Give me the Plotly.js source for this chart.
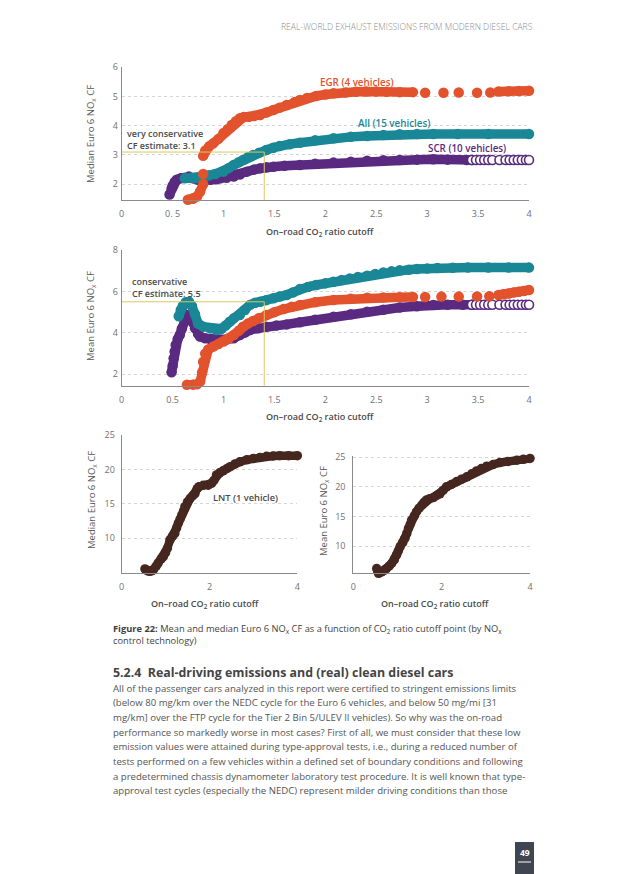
<!DOCTYPE html>
<html>
<head>
<meta charset="utf-8">
<script src="https://cdn.plot.ly/plotly-3.0.1.min.js"></script>
<style>html,body{margin:0;padding:0;background:#fff;}#chart{width:640px;height:874px;}</style>
</head>
<body>
<div id="chart"></div>
<script>
// ---------- data ----------
const xTickVals = [0,0.5,1,1.5,2,2.5,3,3.5,4];
const xTickText1 = ["0","0. 5","1","1.5","2","2.5","3","3.5","4"];
const xTickText2 = ["0","0.5","1","1.5","2","2.5","3","3.5","4"];
const xTickValsLnt = [0,2,4];
const yTicksMedian = [2,3,4,5,6];
const yTicksMean = [2,4,6,8];
const yTicksLnt = [10,15,20,25];

// Median CF, panel 1
const egrMedX = [0.65,0.7,0.74,0.77,0.8,null,0.8,null,0.8,0.82,0.86,0.9,0.95,1.0,1.04,1.08,1.12,1.16,1.2,1.25,1.3,1.36,1.42,1.49,1.55,1.62,1.7,1.75,1.82,1.91,2.0,2.08,2.2,2.3,2.4,2.5,2.6,2.73,2.86,null,2.98,null,3.16,null,3.31,null,3.49,null,3.62,null,3.7,3.8,3.9,4.0];
const egrMedY = [1.47,1.5,1.58,1.75,2.0,null,2.35,null,2.97,3.15,3.3,3.4,3.55,3.75,3.88,4.03,4.15,4.26,4.3,4.31,4.33,4.37,4.45,4.54,4.62,4.71,4.81,4.88,4.95,5.02,5.07,5.11,5.14,5.16,5.17,5.17,5.16,5.15,5.15,null,5.13,null,5.13,null,5.14,null,5.13,null,5.14,null,5.17,5.18,5.19,5.2];
const allMedX = [0.62,0.68,0.72,0.78,0.85,0.92,1.0,1.05,1.1,1.15,1.19,1.24,1.29,1.35,1.42,1.49,1.55,1.65,1.75,1.9,2.08,2.25,2.41,2.57,2.73,2.9,3.06,3.3,3.6,4.0];
const allMedY = [2.2,2.22,2.2,2.25,2.3,2.35,2.43,2.55,2.66,2.75,2.83,2.92,3.0,3.08,3.17,3.25,3.31,3.37,3.42,3.5,3.57,3.62,3.65,3.68,3.71,3.72,3.72,3.72,3.72,3.72];
const scrMedX = [0.47,0.49,0.5,0.52,0.54,0.58,0.62,0.66,0.7,0.75,0.8,0.87,0.93,0.97,1.03,1.1,1.16,1.23,1.3,1.36,1.42,1.49,1.6,1.75,1.9,2.08,2.25,2.41,2.57,2.73,2.9,3.06,3.2,3.39,3.44];
const scrMedY = [1.65,1.85,1.95,2.08,2.15,2.2,2.22,2.26,2.2,2.15,2.13,2.15,2.17,2.2,2.22,2.26,2.33,2.43,2.5,2.55,2.58,2.6,2.63,2.66,2.7,2.74,2.77,2.8,2.82,2.83,2.84,2.85,2.84,2.83,2.83];
const scrOpenX = [3.44,3.48,3.52,3.56,3.6,3.64,3.71,3.77,3.81,3.85,3.89,3.93,3.97,4.0];
const scrOpenMedY = [2.83,2.83,2.83,2.83,2.83,2.83,2.83,2.83,2.83,2.83,2.83,2.83,2.83,2.83];

// Mean CF, panel 2
const egrMeanX = [0.64,0.7,0.74,0.77,0.79,0.8,0.82,0.85,0.9,0.95,1.0,1.05,1.1,1.15,1.19,1.24,1.29,1.35,1.42,1.5,1.59,1.67,1.75,1.9,2.08,2.25,2.41,2.57,2.73,2.86,null,2.98,null,3.14,null,3.31,null,3.49,null,3.61,null,3.7,3.75,3.8,3.85,3.9,3.95,4.0];
const egrMeanY = [1.49,1.5,1.52,1.65,2.1,2.6,3.0,3.2,3.34,3.46,3.58,3.72,3.9,4.1,4.3,4.45,4.57,4.72,4.86,5.0,5.15,5.26,5.35,5.48,5.59,5.65,5.7,5.71,5.72,5.73,null,5.73,null,5.75,null,5.75,null,5.76,null,5.77,null,5.83,5.86,5.9,5.95,5.98,6.02,6.07];
const allMeanX = [0.56,0.58,0.6,0.63,0.66,0.69,0.72,0.75,0.8,0.87,0.93,0.98,1.02,1.06,1.1,1.16,1.21,1.26,1.31,1.36,1.42,1.49,1.55,1.62,1.68,1.75,1.83,1.91,2.0,2.08,2.16,2.24,2.32,2.41,2.49,2.57,2.65,2.73,2.82,2.9,3.0,3.1,3.25,3.4,3.6,3.8,4.0];
const allMeanY = [4.8,5.1,5.3,5.48,5.5,5.3,4.9,4.45,4.3,4.22,4.14,4.2,4.35,4.54,4.7,4.86,5.1,5.35,5.45,5.5,5.58,5.67,5.75,5.83,5.95,6.12,6.22,6.31,6.39,6.47,6.55,6.63,6.7,6.76,6.84,6.91,6.97,7.02,7.05,7.08,7.11,7.13,7.14,7.15,7.15,7.15,7.15];
const scrMeanX = [0.49,0.5,0.51,0.52,0.53,0.55,0.57,0.59,0.62,0.64,0.67,0.7,0.72,0.75,0.77,0.82,0.87,0.92,0.97,1.03,1.1,1.16,1.21,1.26,1.34,1.42,1.52,1.62,1.75,1.9,2.08,2.25,2.41,2.57,2.73,2.9,3.06,3.2,3.35,3.44];
const scrMeanY = [2.1,2.4,2.77,3.1,3.42,3.7,3.9,4.2,4.6,4.86,4.78,4.5,4.22,3.95,3.82,3.74,3.7,3.68,3.66,3.68,3.74,3.9,4.02,4.14,4.22,4.3,4.36,4.41,4.51,4.63,4.78,4.9,5.02,5.12,5.22,5.28,5.35,5.36,5.36,5.36];
const scrOpenMeanY = [5.36,5.36,5.36,5.36,5.36,5.36,5.36,5.36,5.36,5.36,5.36,5.36,5.36,5.36];

// LNT (1 vehicle), panels 3 and 4
const lntMedX = [0.53,0.58,0.63,0.68,0.72,0.78,0.83,0.9,0.95,1.0,1.04,1.1,1.16,1.21,1.25,1.29,1.33,1.37,1.41,1.44,1.5,1.56,1.62,1.67,1.72,1.76,1.86,1.97,2.05,2.1,2.16,2.23,2.31,2.39,2.47,2.58,2.69,2.85,3.0,3.15,3.3,3.45,3.6,3.8,4.0];
const lntMedY = [5.55,5.3,5.2,5.25,5.4,5.9,6.4,7.0,7.34,7.9,8.55,9.76,10.3,10.7,11.5,12.2,12.8,13.4,14.0,14.6,15.3,15.8,16.2,16.5,17.2,17.5,17.7,17.7,18.0,18.4,19.2,19.5,19.8,20.1,20.4,20.8,21.1,21.4,21.6,21.75,21.9,21.95,22.0,22.0,22.0];
const lntMeanX = [0.53,0.55,0.57,0.6,0.64,0.7,0.75,0.81,0.87,0.93,0.98,1.02,1.06,1.12,1.17,1.21,1.25,1.29,1.32,1.38,1.43,1.49,1.55,1.6,1.66,1.73,1.81,1.88,1.96,2.03,2.11,2.22,2.34,2.45,2.57,2.68,2.79,2.9,3.02,3.17,3.32,3.5,3.7,3.85,4.0];
const lntMeanY = [6.2,5.8,5.4,5.5,5.65,5.9,6.2,6.6,7.1,7.7,8.5,9.2,9.9,10.6,11.3,12.1,13.0,13.7,14.4,15.1,15.8,16.4,16.9,17.4,17.8,18.0,18.2,18.5,18.8,19.4,20.0,20.4,20.9,21.3,21.7,22.2,22.7,23.1,23.5,23.8,24.1,24.3,24.5,24.65,24.8];

// conservative CF estimates and cutoff
const cfEstimateMedian = 3.1;
const cfEstimateMean = 5.5;
const cutoffUsed = 1.4;

const paragraphLines = [
  "All of the passenger cars analyzed in this report were certified to stringent emissions limits",
  "(below 80 mg/km over the NEDC cycle for the Euro 6 vehicles, and below 50 mg/mi [31",
  "mg/km] over the FTP cycle for the Tier 2 Bin 5/ULEV II vehicles). So why was the on-road",
  "performance so markedly worse in most cases? First of all, we must consider that these low",
  "emission values were attained during type-approval tests, i.e., during a reduced number of",
  "tests performed on a few vehicles within a defined set of boundary conditions and following",
  "a predetermined chassis dynamometer laboratory test procedure. It is well known that type-",
  "approval test cycles (especially the NEDC) represent milder driving conditions than those"
];

// ---------- styles ----------
const W = 640, H = 874;
const FONT = "Open Sans, Noto Sans, sans-serif";
const C_EGR = "#e2522c", C_ALL = "#1a8797", C_SCR = "#5a2a80", C_LNT = "#46271f";
const C_GUIDE = "#d8c861";
const px = v => v / W;
const py = v => 1 - v / H;

function series(x, y, color, xa, ya, size, width) {
  return {x: x, y: y, xaxis: xa, yaxis: ya, type: "scatter", mode: "lines+markers",
    line: {color: color, width: width}, marker: {color: color, size: size},
    connectgaps: false, cliponaxis: false, hoverinfo: "skip", showlegend: false};
}
function openSeries(x, y, color, xa, ya) {
  return {x: x, y: y, xaxis: xa, yaxis: ya, type: "scatter", mode: "markers",
    marker: {color: "#ffffff", size: 9, line: {color: color, width: 1.6}},
    cliponaxis: false, hoverinfo: "skip", showlegend: false};
}

const data = [
  series(scrMedX, scrMedY, C_SCR, "x", "y", 10.5, 9.5),
  openSeries(scrOpenX, scrOpenMedY, C_SCR, "x", "y"),
  series(allMedX, allMedY, C_ALL, "x", "y", 10.5, 9.5),
  series(egrMedX, egrMedY, C_EGR, "x", "y", 10.5, 9.5),
  series(scrMeanX, scrMeanY, C_SCR, "x2", "y2", 10.5, 9.5),
  openSeries(scrOpenX, scrOpenMeanY, C_SCR, "x2", "y2"),
  series(allMeanX, allMeanY, C_ALL, "x2", "y2", 10.5, 9.5),
  series(egrMeanX, egrMeanY, C_EGR, "x2", "y2", 10.5, 9.5),
  series(lntMedX, lntMedY, C_LNT, "x3", "y3", 9.5, 8.5),
  series(lntMeanX, lntMeanY, C_LNT, "x4", "y4", 9.5, 8.5)
];

const tickFont = {family: FONT, size: 9, color: "#707070"};
function xAxis(domain, anchor, vals, text) {
  return {domain: domain, anchor: anchor, range: [0, 4], tickvals: vals, ticktext: text,
    showline: true, linecolor: "#8a8a8a", linewidth: 1, showgrid: false, zeroline: false,
    ticks: "outside", ticklen: 5, tickcolor: "rgba(0,0,0,0)", tickfont: tickFont, fixedrange: true};
}
function yAxis(domain, anchor, range, vals, standoff) {
  return {domain: domain, anchor: anchor, range: range, tickvals: vals,
    showline: true, linecolor: "#8a8a8a", linewidth: 1, showgrid: true, gridcolor: "#d4d4d4",
    griddash: "dot", gridwidth: 1, zeroline: false,
    ticks: "outside", ticklen: standoff, tickcolor: "rgba(0,0,0,0)", tickfont: tickFont, fixedrange: true};
}

const shapes = [
  {type: "line", xref: "x", yref: "y", x0: 0, x1: cutoffUsed, y0: cfEstimateMedian, y1: cfEstimateMedian, line: {color: C_GUIDE, width: 1}},
  {type: "line", xref: "x", yref: "y", x0: cutoffUsed, x1: cutoffUsed, y0: 1.46, y1: cfEstimateMedian, line: {color: C_GUIDE, width: 1}},
  {type: "line", xref: "x2", yref: "y2", x0: 0, x1: cutoffUsed, y0: cfEstimateMean, y1: cfEstimateMean, line: {color: C_GUIDE, width: 1}},
  {type: "line", xref: "x2", yref: "y2", x0: cutoffUsed, x1: cutoffUsed, y0: 1.45, y1: cfEstimateMean, line: {color: C_GUIDE, width: 1}},
  // page number box
  {type: "rect", xref: "paper", yref: "paper", x0: px(515), x1: px(534), y0: 0, y1: py(842), fillcolor: "#3f4651", line: {width: 0}},
  {type: "line", xref: "paper", yref: "paper", x0: px(518), x1: px(531), y0: py(862), y1: py(862), line: {color: "#ffffff", width: 1}}
];

function txt(x, y, text, opts) {
  return Object.assign({xref: "paper", yref: "paper", x: px(x), y: py(y), text: text, showarrow: false,
    xanchor: "center", yanchor: "middle", font: {family: FONT, size: 9, color: "#555"}}, opts || {});
}
const axisTitleFont = {family: FONT, size: 9, color: "#4a4a4a", weight: 600};
const ylabFont = {family: FONT, size: 9.5, color: "#555", weight: 500};
const noteFont = {family: FONT, size: 9, color: "#4a4a4a", weight: 600};

const annotations = [
  txt(535, 27, "REAL-WORLD EXHAUST EMISSIONS FROM MODERN DIESEL CARS", {xanchor: "right", font: {family: FONT, size: 8.6, color: "#8a8a8a", weight: 300}}),
  // axis titles
  txt(320, 232, "On–road CO<sub>2</sub> ratio cutoff", {font: axisTitleFont}),
  txt(320, 417, "On–road CO<sub>2</sub> ratio cutoff", {font: axisTitleFont}),
  txt(205, 604, "On–road CO<sub>2</sub> ratio cutoff", {font: axisTitleFont}),
  txt(435, 604, "On–road CO<sub>2</sub> ratio cutoff", {font: axisTitleFont}),
  txt(91, 134, "Median Euro 6 NO<sub>x</sub> CF", {textangle: -90, font: ylabFont}),
  txt(91, 316, "Mean Euro 6 NO<sub>x</sub> CF", {textangle: -90, font: ylabFont}),
  txt(92, 500, "Median Euro 6 NO<sub>x</sub> CF", {textangle: -90, font: ylabFont}),
  txt(324, 511, "Mean Euro 6 NO<sub>x</sub> CF", {textangle: -90, font: ylabFont}),
  // series labels
  txt(357, 82, "EGR (4 vehicles)", {font: {family: FONT, size: 9.8, color: C_EGR, weight: 600}}),
  txt(394, 124, "All (15 vehicles)", {font: {family: FONT, size: 9.8, color: C_ALL, weight: 600}}),
  txt(467, 148, "SCR (10 vehicles)", {font: {family: FONT, size: 9.8, color: C_SCR, weight: 600}}),
  txt(125, 139, "very conservative<br>CF estimate: 3.1", {xanchor: "left", align: "left", font: noteFont}),
  txt(130, 287, "conservative<br>CF estimate: 5.5", {xanchor: "left", align: "left", font: noteFont}),
  txt(245, 497, "LNT (1 vehicle)", {font: {family: FONT, size: 9.3, color: "#4a4a4a", weight: 600}}),
  // caption
  txt(111, 634, "<b>Figure 22:</b> Mean and median Euro 6 NO<sub>x</sub> CF as a function of CO<sub>2</sub> ratio cutoff point (by NO<sub>x</sub><br>control technology)", {xanchor: "left", align: "left", font: {family: FONT, size: 9.3, color: "#3f3f3f"}}),
  // heading
  txt(111, 672, "5.2.4  Real-driving emissions and (real) clean diesel cars", {xanchor: "left", font: {family: FONT, size: 12.4, color: "#444", weight: 700}}),
  // page number
  txt(524.5, 852, "49", {font: {family: FONT, size: 8.5, color: "#ffffff", weight: 700}})
];
paragraphLines.forEach((line, i) => {
  annotations.push(txt(111, 688 + i * 14.7, line, {xanchor: "left", font: {family: FONT, size: 9.6, color: "#555"}}));
});

const layout = {
  width: W, height: H, margin: {l: 0, r: 0, t: 0, b: 0},
  paper_bgcolor: "#ffffff", plot_bgcolor: "#ffffff", showlegend: false, hovermode: false,
  font: {family: FONT},
  xaxis: xAxis([px(121.7), px(529)], "y", xTickVals, xTickText1),
  yaxis: yAxis([py(200), py(67.3)], "x", [1.46, 6], yTicksMedian, 1),
  xaxis2: xAxis([px(121.7), px(529)], "y2", xTickVals, xTickText2),
  yaxis2: yAxis([py(385.7), py(250)], "x2", [1.45, 8], yTicksMean, 1),
  xaxis3: xAxis([px(121.7), px(297.3)], "y3", xTickValsLnt, ["0","2","4"]),
  yaxis3: yAxis([py(572.7), py(435)], "x3", [5, 25], yTicksLnt, 4),
  xaxis4: xAxis([px(353.3), px(530)], "y4", xTickValsLnt, ["0","2","4"]),
  yaxis4: yAxis([py(573.3), py(455.5)], "x4", [5.4, 25.3], yTicksLnt, 5),
  shapes: shapes,
  annotations: annotations
};

Plotly.newPlot("chart", data, layout, {staticPlot: true, displayModeBar: false});
</script>
</body>
</html>
